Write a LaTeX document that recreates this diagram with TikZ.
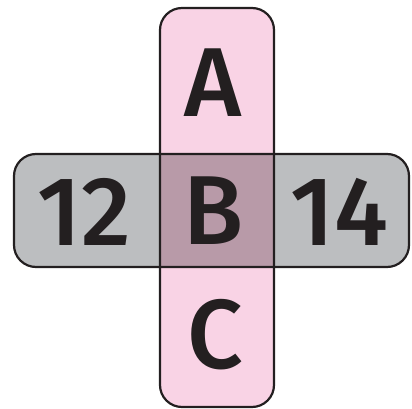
\documentclass[tikz,border=0pt]{standalone}
\usepackage{fontspec}
\newfontfamily\lab{Fira Sans}[UprightFont=* Medium]
\definecolor{pinkfill}{HTML}{F9D3E5}
\definecolor{grayfill}{HTML}{BCBEC0}
\definecolor{mixfill}{HTML}{B89AA8}
\definecolor{ink}{HTML}{231F20}
\begin{document}
\begin{tikzpicture}[x=1pt,y=-1pt,
  outline/.style={draw=ink,line width=2.2pt,rounded corners=22pt},
  lbl/.style={anchor=base,inner sep=0pt,text=ink,font=\lab\fontsize{98}{98}\selectfont}]
\useasboundingbox (0,0) rectangle (412,409);
\fill[pinkfill,rounded corners=22pt] (160,8) rectangle (274,407);
\fill[grayfill,rounded corners=22pt] (14,154) rectangle (409,267);
\fill[mixfill] (160,154) rectangle (274,267);
\draw[outline] (160,8) rectangle (274,407);
\draw[outline] (14,154) rectangle (409,267);
\node[lbl] (a) at (213,117) {A};
\node[lbl] (b) at (214,244) {B};
\node[lbl] (c) at (215,368) {C};
\node[lbl] (n12) at (84,245) {12};
\node[lbl] (n14) at (339,245) {14};
\end{tikzpicture}
\end{document}
